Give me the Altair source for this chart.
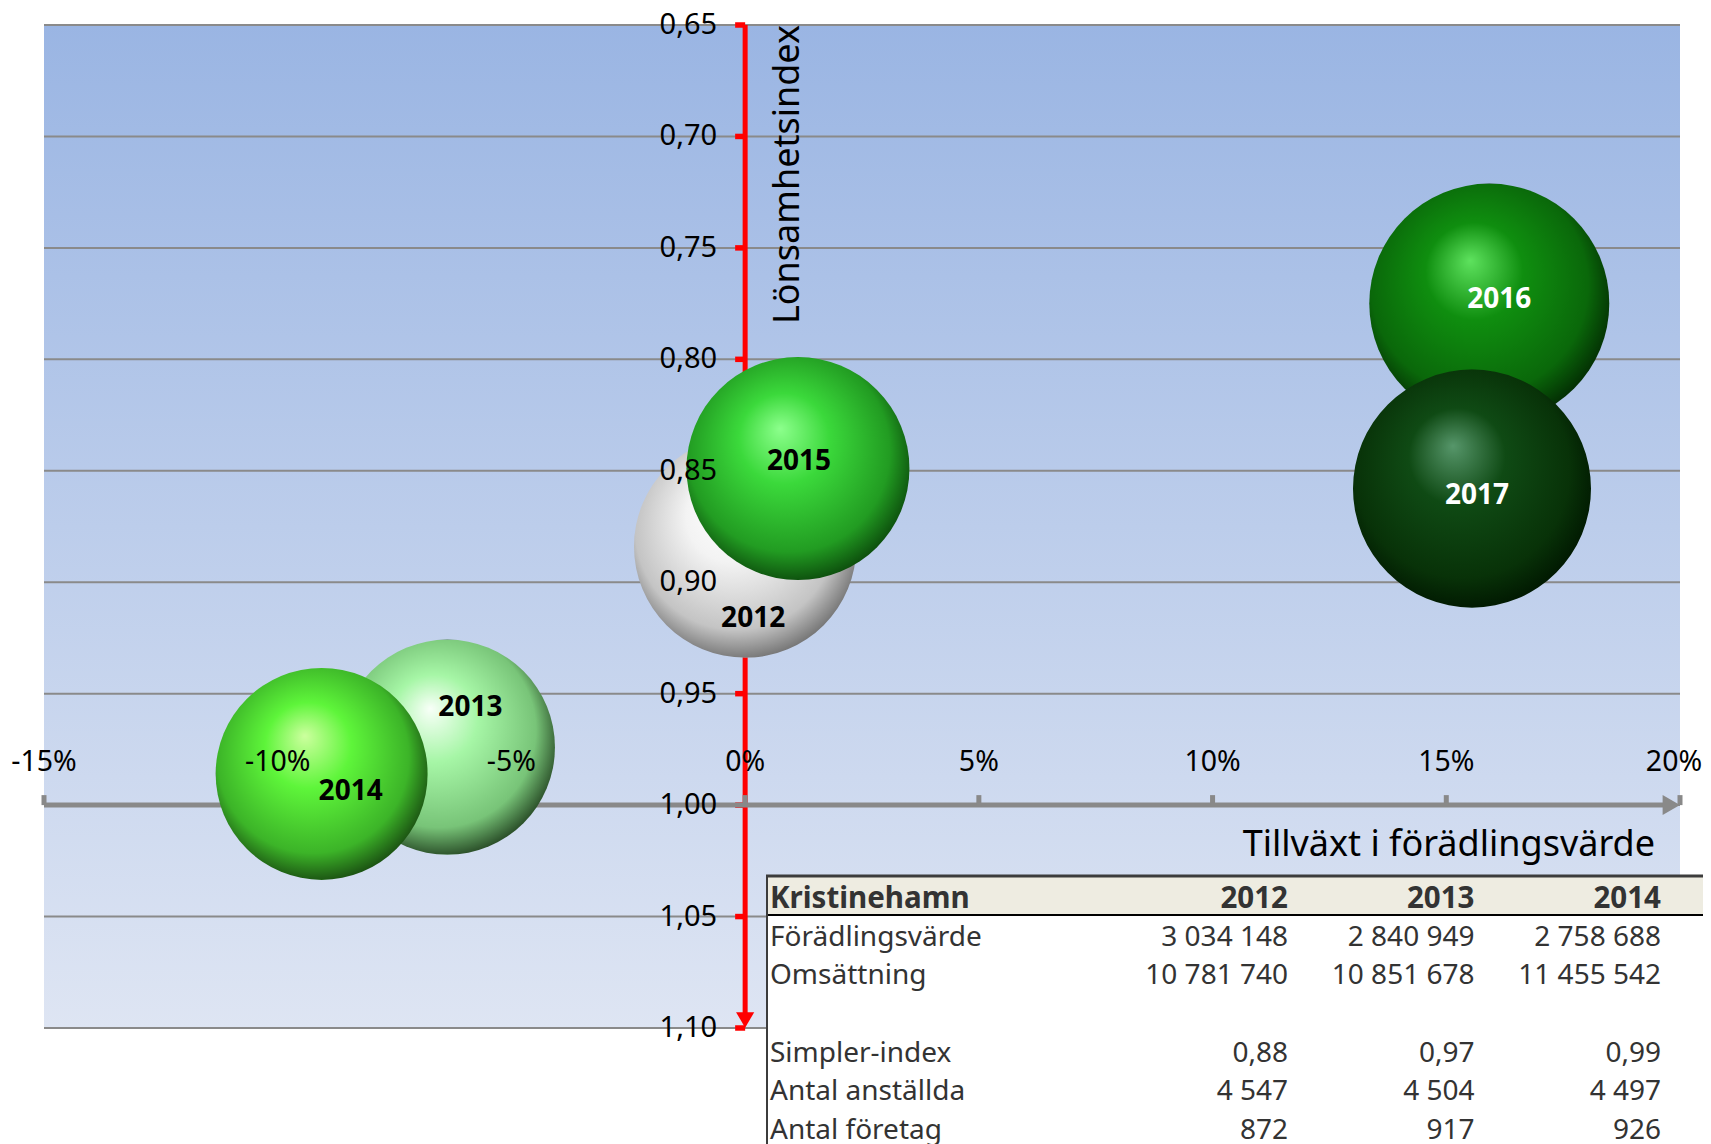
import altair as alt
import pandas as pd

# ---------------- data ----------------
years = [2012, 2013, 2014, 2015, 2016, 2017]
tillvaxt = [0.0, -6.37, -9.06, 1.13, 15.92, 15.55]          # Tillväxt i förädlingsvärde (%)
lonsamhet = [0.884, 0.974, 0.986, 0.849, 0.775, 0.858]     # Lönsamhetsindex
bubble_fv = [3034148, 2840949, 2758688, 3052000, 3536000, 3477000]  # bubble size (förädlingsvärde)

x_ticks = [-15, -10, -5, 0, 5, 10, 15, 20]
y_ticks = [0.65, 0.70, 0.75, 0.80, 0.85, 0.90, 0.95, 1.00, 1.05, 1.10]

table_title = "Kristinehamn"
table_years = [2012, 2013, 2014]
t_foradling = [3034148, 2840949, 2758688]
t_omsattning = [10781740, 10851678, 11455542]
t_simpler = [0.88, 0.97, 0.99]
t_anstallda = [4547, 4504, 4497]
t_foretag = [872, 917, 926]
row_labels = ["Förädlingsvärde", "Omsättning", "", "Simpler-index", "Antal anställda", "Antal företag"]

# ---------------- styles ----------------
FONT = "Noto Sans"
X_DOMAIN = [-15, 20]
Y_DOMAIN = [0.65, 1.10]


def sphere(hl, base, dark, edge):
    return {
        "gradient": "radial",
        "x1": 0.42, "y1": 0.32, "r1": 0,
        "x2": 0.47, "y2": 0.45, "r2": 0.58,
        "stops": [
            {"offset": 0.0, "color": hl},
            {"offset": 0.35, "color": base},
            {"offset": 0.78, "color": dark},
            {"offset": 1.0, "color": edge},
        ],
    }


bubble_style = {
    2012: dict(fill=sphere("#ffffff", "#f3f3f3", "#c4c4c4", "#6a6a6a"), text="black", dx=8, dy=72),
    2013: dict(fill=sphere("#f8fff8", "#a6f6a6", "#78c478", "#1e3c1c"), text="black", dx=23, dy=-39),
    2014: dict(fill=sphere("#ccff9e", "#5ef53a", "#3cb428", "#16430f"), text="black", dx=29, dy=18),
    2015: dict(fill=sphere("#8cff8c", "#3bd93b", "#229c22", "#0a430a"), text="black", dx=1, dy=-7),
    2016: dict(fill=sphere("#5ee25e", "#0f8e0f", "#0a680a", "#022602"), text="white", dx=10, dy=-4),
    2017: dict(fill=sphere("#56966a", "#0f4a14", "#083208", "#001500"), text="white", dx=5, dy=7),
}

BG_GRAD = {
    "gradient": "linear", "x1": 0, "y1": 0, "x2": 0, "y2": 1,
    "stops": [{"offset": 0, "color": "#9ab5e3"}, {"offset": 1, "color": "#dee5f3"}],
}

XS = alt.Scale(domain=X_DOMAIN, nice=False, zero=False)
YS = alt.Scale(domain=Y_DOMAIN, reverse=True, nice=False, zero=False)


def xq(f):
    return alt.X(f"{f}:Q", scale=XS, axis=None)


def yq(f):
    return alt.Y(f"{f}:Q", scale=YS, axis=None)


def xd(v):
    return alt.XDatum(v, type="quantitative", scale=XS, axis=None)


def yd(v):
    return alt.YDatum(v, type="quantitative", scale=YS, axis=None)


ONE = pd.DataFrame({"k": [0]})
df_x = pd.DataFrame({"v": x_ticks})
df_y = pd.DataFrame({"v": y_ticks})
df_b = pd.DataFrame({"year": years, "tillvaxt": tillvaxt, "lonsamhet": lonsamhet, "fv": bubble_fv})

layers = []

# plot background and gridlines
layers.append(alt.Chart(ONE).mark_rect(fill=BG_GRAD).encode(
    x=xd(X_DOMAIN[0]), x2=alt.X2Datum(X_DOMAIN[1]), y=yd(Y_DOMAIN[0]), y2=alt.Y2Datum(Y_DOMAIN[1])))
layers.append(alt.Chart(df_y).mark_rule(color="#8a8a8a", strokeWidth=2).encode(
    x=xd(X_DOMAIN[0]), x2=alt.X2Datum(X_DOMAIN[1]), y=yq("v")))

# ---------------- table ----------------
def fmt_int(v):
    return f"{v:,}".replace(",", " ")


def fmt_dec(v):
    return f"{v:.2f}".replace(".", ",")


body_rows = [
    [fmt_int(v) for v in t_foradling],
    [fmt_int(v) for v in t_omsattning],
    ["", "", ""],
    [fmt_dec(v) for v in t_simpler],
    [fmt_int(v) for v in t_anstallda],
    [fmt_int(v) for v in t_foretag],
]
head_df = pd.DataFrame({"row": 0, "col": [1, 2, 3], "txt": [str(y) for y in table_years]})
head_lab = pd.DataFrame({"row": [0], "txt": [table_title]})
body_lab = pd.DataFrame({"row": list(range(1, 7)), "txt": row_labels})
body_val = pd.DataFrame([
    {"row": r + 1, "col": c + 1, "txt": body_rows[r][c]}
    for r in range(6) for c in range(3)
])

TY = alt.Y("row:Q", scale=alt.Scale(domain=[0, 6], range=[874, 1106]), axis=None)
TX = alt.X("col:Q", scale=alt.Scale(domain=[1, 3], range=[1244, 1617]), axis=None)

layers.append(alt.Chart(ONE).mark_rect(fill="#ffffff").encode(
    x=alt.value(723), x2=alt.value(1760), y=alt.value(851), y2=alt.value(1200)))
layers.append(alt.Chart(ONE).mark_rect(fill="#eeece1").encode(
    x=alt.value(723), x2=alt.value(1760), y=alt.value(851), y2=alt.value(890)))
layers.append(alt.Chart(ONE).mark_rule(color="#3c3c3c", strokeWidth=3).encode(
    x=alt.value(722), x2=alt.value(1760), y=alt.value(851)))
layers.append(alt.Chart(ONE).mark_rule(color="#000000", strokeWidth=2).encode(
    x=alt.value(723), x2=alt.value(1760), y=alt.value(890)))
layers.append(alt.Chart(ONE).mark_rule(color="#3c3c3c", strokeWidth=2).encode(
    x=alt.value(723), y=alt.value(850), y2=alt.value(1200)))

layers.append(alt.Chart(head_lab).mark_text(
    align="left", baseline="middle", font=FONT, fontSize=29.5, fontWeight="bold", color="#333333"
).encode(x=alt.value(726), y=TY, text="txt:N"))
layers.append(alt.Chart(head_df).mark_text(
    align="right", baseline="middle", font=FONT, fontSize=29.5, fontWeight="bold", color="#333333"
).encode(x=TX, y=TY, text="txt:N"))
layers.append(alt.Chart(body_lab).mark_text(
    align="left", baseline="middle", font=FONT, fontSize=28, color="#333333"
).encode(x=alt.value(726), y=TY, text="txt:N"))
layers.append(alt.Chart(body_val).mark_text(
    align="right", baseline="middle", font=FONT, fontSize=28, color="#333333"
).encode(x=TX, y=TY, text="txt:N"))

# ---------------- red vertical axis ----------------
RED = "#ff0000"
layers.append(alt.Chart(ONE).mark_rule(color=RED, strokeWidth=5, y2Offset=-8).encode(
    x=xd(0), y=yd(Y_DOMAIN[0]), y2=alt.Y2Datum(Y_DOMAIN[1])))
layers.append(alt.Chart(df_y).mark_rule(color=RED, strokeWidth=5.5, x2Offset=-10).encode(
    x=xd(0), x2=alt.X2Datum(0), y=yq("v")))
layers.append(alt.Chart(ONE).mark_point(
    shape="triangle-down", filled=True, fill=RED, opacity=1, size=330, yOffset=-8, strokeWidth=0
).encode(x=xd(0), y=yd(Y_DOMAIN[1])))

# ---------------- gray horizontal axis ----------------
GRAY = "#898989"
layers.append(alt.Chart(ONE).mark_rule(color=GRAY, strokeWidth=5, x2Offset=-12).encode(
    x=xd(X_DOMAIN[0]), x2=alt.X2Datum(X_DOMAIN[1]), y=yd(1.0)))
layers.append(alt.Chart(df_x).mark_rule(color=GRAY, strokeWidth=5, y2Offset=-10).encode(
    x=xq("v"), y=yd(1.0), y2=alt.Y2Datum(1.0)))
layers.append(alt.Chart(ONE).mark_point(
    shape="triangle-right", filled=True, fill=GRAY, opacity=1, size=400, xOffset=-8.7, strokeWidth=0
).encode(x=xd(X_DOMAIN[1]), y=yd(1.0)))

# ---------------- bubbles ----------------
SS = alt.Scale(domain=[0, max(bubble_fv)], range=[0, 57600], zero=True)
for yr in years:
    st = bubble_style[yr]
    layers.append(alt.Chart(df_b).transform_filter(alt.datum.year == yr).mark_point(
        shape="circle", filled=True, fill=st["fill"], opacity=1, strokeWidth=0
    ).encode(x=xq("tillvaxt"), y=yq("lonsamhet"), size=alt.Size("fv:Q", scale=SS, legend=None)))
for yr in years:
    st = bubble_style[yr]
    layers.append(alt.Chart(df_b).transform_filter(alt.datum.year == yr).mark_text(
        font=FONT, fontSize=28, fontWeight="bold", color=st["text"], dx=st["dx"], dy=st["dy"],
        align="center", baseline="middle"
    ).encode(x=xq("tillvaxt"), y=yq("lonsamhet"), text="year:N"))

# ---------------- tick labels ----------------
layers.append(alt.Chart(df_y).transform_calculate(
    lab="replace(format(datum.v, '.2f'), '.', ',')"
).mark_text(align="right", baseline="middle", font=FONT, fontSize=29, color="black", xOffset=-28).encode(
    x=xd(0), y=yq("v"), text="lab:N"))
xlab_style = dict(align="center", baseline="middle", font=FONT, fontSize=28.5, color="black", yOffset=-43)
layers.append(alt.Chart(df_x).transform_filter(alt.datum.v < X_DOMAIN[1]).transform_calculate(
    lab="datum.v + '%'"
).mark_text(**xlab_style).encode(x=xq("v"), y=yd(1.0), text="lab:N"))
layers.append(alt.Chart(df_x).transform_filter(alt.datum.v == X_DOMAIN[1]).transform_calculate(
    lab="datum.v + '%'"
).mark_text(xOffset=-6, **xlab_style).encode(x=xq("v"), y=yd(1.0), text="lab:N"))

# ---------------- titles ----------------
layers.append(alt.Chart(ONE).mark_text(
    angle=270, align="right", baseline="alphabetic", font=FONT, fontSize=36, color="black", xOffset=54
).encode(x=xd(0), y=yd(Y_DOMAIN[0]), text=alt.value("Lönsamhetsindex")))
layers.append(alt.Chart(ONE).mark_text(
    align="right", baseline="alphabetic", font=FONT, fontSize=36, color="black", xOffset=-25, yOffset=51
).encode(x=xd(X_DOMAIN[1]), y=yd(1.0), text=alt.value("Tillväxt i förädlingsvärde")))

chart = alt.layer(*layers).resolve_scale(x="independent", y="independent").properties(
    width=1636,
    height=1003,
    padding={"left": 36, "top": 17, "right": 23, "bottom": 125},
    autosize=alt.AutoSizeParams(type="none"),
    background="white",
).configure_view(stroke=None)

chart.save("out.html", embed_options={"renderer": "svg", "actions": False})
